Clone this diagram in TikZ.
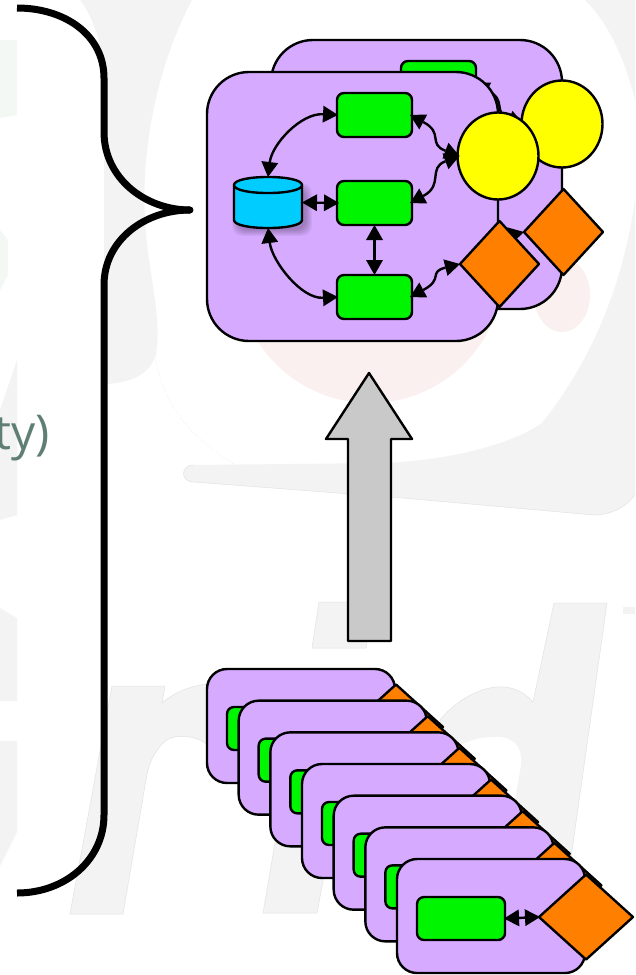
\documentclass[tikz,border=0pt]{standalone}
\usepackage{fontspec}
\setmainfont{Open Sans}
\usetikzlibrary{arrows.meta,shapes.geometric}
\definecolor{bgrey}{HTML}{F3F3F3}
\definecolor{bline}{HTML}{E2E2E2}
\definecolor{bpink}{HTML}{FBF0F0}
\definecolor{bgreen}{HTML}{F3F8F5}
\definecolor{cpurple}{HTML}{D6ABFF}
\definecolor{cgreen}{HTML}{00F500}
\definecolor{corange}{HTML}{FF7F00}
\definecolor{cyellow}{HTML}{FFFF00}
\definecolor{ccyan}{HTML}{00CCFF}
\definecolor{cgray}{HTML}{C9C9C9}
\definecolor{ctext}{HTML}{5F7F75}
\tikzset{
  every node/.style={outer sep=0pt,inner sep=0pt},
  ln/.style={draw=black,line width=2.4pt,line join=round},
  bigcard/.style={ln,fill=cpurple,rounded corners=42pt,minimum width=291pt,minimum height=269pt,anchor=north west},
  smallcard/.style={ln,fill=cpurple,rounded corners=20pt,minimum width=188pt,minimum height=114pt,anchor=north west},
  grn/.style={ln,fill=cgreen,rounded corners=7pt,minimum width=75pt,minimum height=44pt},
  grnsmall/.style={ln,fill=cgreen,rounded corners=7pt,minimum width=88pt,minimum height=43pt},
  circ/.style={ln,fill=cyellow,ellipse,minimum width=81pt,minimum height=87pt},
  dia/.style={ln,fill=corange,diamond,minimum width=79pt,minimum height=86pt},
  diasmall/.style={ln,fill=corange,diamond,minimum width=94pt,minimum height=85pt},
  dbbox/.style={minimum width=68pt,minimum height=51pt},
  conn/.style={line width=2.4pt,{Triangle[length=15pt,width=17pt,line width=0pt]}-{Triangle[length=15pt,width=17pt,line width=0pt]}},
  wm/.style={fill=bgrey,draw=bline,line width=.5pt},
  wmnl/.style={fill=bgrey},
}
\newcommand{\topgroup}[3]{%
  \begin{scope}[shift={(#2,#3)}]
    \node[bigcard] (#1card) at (207,72) {};
    \foreach \s in {1,...,7}{
      \fill[black,opacity=.04,rounded corners=10pt]
        ({234+5-\s},{190-\s}) rectangle ({302+3+\s},{229+\s});
    }
    \node[dbbox] (#1db) at (268,202.5) {};
    \draw[ln,fill=ccyan] (234,185) -- (234,220) .. controls (234,230.7) and (302,230.7) .. (302,220) -- (302,185) -- cycle;
    \draw[ln,fill=ccyan] (234,185) .. controls (234,174.3) and (302,174.3) .. (302,185)
       .. controls (302,195.7) and (234,195.7) .. (234,185) -- cycle;
    \node[grn] (#1ga) at (374.5,115) {};
    \node[grn] (#1gb) at (374.5,203) {};
    \node[grn] (#1gc) at (374.5,297) {};
    \node[circ] (#1yc) at (498,156) {};
    \node[dia] (#1od) at (499.5,264) {};
  \end{scope}
  \draw[conn] (#1db.north) .. controls +(4,-33) and +(-37,-2) .. ([xshift=1pt]#1ga.west);
  \draw[conn] (#1db.south) .. controls +(4,33) and +(-37,2) .. ([xshift=1pt]#1gc.west);
  \draw[conn] (#1db.east) -- ([xshift=2pt]#1gb.west);
  \draw[conn] (#1gb.south) -- (#1gc.north);
  \draw[conn] ([xshift=-2pt]#1ga.east) .. controls +(34,18) and +(-32,-12) .. ([xshift=2pt]#1yc.west);
  \draw[conn] ([xshift=-2pt]#1gb.east) .. controls +(34,-18) and +(-32,12) .. ([xshift=2pt]#1yc.west);
  \draw[conn] ([xshift=-2pt]#1gc.east) .. controls +(34,-18) and +(-32,8) .. (#1od.west);
}
\begin{document}
\begin{tikzpicture}[x=1pt,y=-1pt]
\useasboundingbox (0,0) rectangle (635,975);
\fill[white] (0,0) rectangle (635,975);
% watermark
\fill[bgreen] (0,40) -- (17,40) -- (17,115) -- (0,118) -- cycle;
\fill[bgreen] (0,230) -- (8,240) -- (8,275) -- (0,290) -- cycle;
\fill[bgrey] (17,360) -- (17,515) -- (0,520) -- (0,410) -- cycle;
\fill[bgrey] (0,608) -- (17,618) -- (17,701) -- (0,701) -- cycle;
\fill[bgrey] (0,741) -- (17,741) -- (17,832) -- (0,866) -- cycle;
\fill[bgrey] (80,0) .. controls (95,20) and (104,50) .. (104,80) -- (104,384)
  -- (107,384) .. controls (135,382) and (152,372) .. (156,353)
  .. controls (162,320) and (150,280) .. (146,233)
  .. controls (140,170) and (150,80) .. (192,0) -- cycle;
\fill[bgrey] (585,0) .. controls (610,25) and (625,60) .. (635,100) -- (635,0) -- cycle;
\fill[bpink] (370,270) circle[radius=133];
\fill[bpink] (562,295) ellipse[x radius=28,y radius=37];
\draw[bline,line width=.5pt,dotted] (155,353) .. controls (160,400) and (190,440) .. (239,467);
\path[wmnl] (635,200) .. controls (625,270) and (600,350) .. (542,423)
  .. controls (510,445) and (450,460) .. (385,463) -- (194,465)
  .. controls (180,465) and (180,482) .. (194,482) -- (403,498) -- (594,515)
  .. controls (610,515) and (625,508) .. (635,495) -- cycle;
\draw[bline,line width=.5pt] (194,465) .. controls (180,465) and (180,482) .. (194,482) -- (403,498) -- (594,515) .. controls (610,515) and (625,508) .. (635,495);
\draw[wm] (319,602) -- (372,602) -- (366,648) -- (312,648) -- cycle;
\path[wmnl] (623,607) rectangle (635,614);
% r
\draw[wm] (112,686) -- (165,686) -- (162,703) .. controls (175,692) and (190,686) .. (207,684)
  -- (230,684) -- (230,760) -- (205,743) .. controls (190,733) and (170,735) .. (163,743)
  .. controls (152,755) and (149,765) .. (147,774) -- (123,914) -- (70,914) -- cycle;
\draw[wm] (275,843) -- (330,843) -- (317,913) -- (263,913) -- cycle;
% d
\draw[wm] (554,603) -- (607,603) -- (563,914) -- (440,914) -- (440,720)
  .. controls (460,695) and (505,670) .. (533,702) -- cycle;
\fill[white] (493,737) .. controls (515,735) and (525,750) .. (520,770) -- (510,830) -- (440,830) -- (440,760) .. controls (455,745) and (475,737) .. (493,737) -- cycle;
\fill[white] (440,914) rectangle (600,975);
% brace
\draw[line width=7pt] (17,8) .. controls (65,8) and (104,35) .. (104,78) -- (104,132)
  .. controls (104,178) and (145,210) .. (190,210);
\draw[line width=7pt] (17,893) .. controls (65,893) and (104,860) .. (104,815) -- (104,285)
  .. controls (104,240) and (145,210) .. (190,210);
\fill (190,210) circle[radius=3.5];
\node[anchor=base east,text=ctext,font=\fontsize{48pt}{54pt}\selectfont] (frag) at (50,449) {ty)};
% top groups
\topgroup{b}{64}{-32}
\topgroup{f}{0}{0}
% big arrow
\draw[ln,fill=cgray,miter limit=10] (369,373) -- (412,439) -- (391,439) -- (391,641) -- (348,641) -- (348,439) -- (326,439) -- cycle;
% stack
\foreach \i in {0,...,6}{
  \pgfmathsetmacro{\cx}{207+31.67*\i}
  \pgfmathsetmacro{\cy}{669+31.67*\i}
  \begin{scope}[shift={(\cx,\cy)}]
    \node[smallcard] (card\i) at (0,0) {};
    \node[grnsmall] (gr\i) at (64,59.5) {};
    \node[diasmall] (di\i) at (189,58) {};
  \end{scope}
  \draw[conn] ([xshift=-1pt]gr\i.east) -- ([xshift=1pt]di\i.west);
}
\end{tikzpicture}
\end{document}
